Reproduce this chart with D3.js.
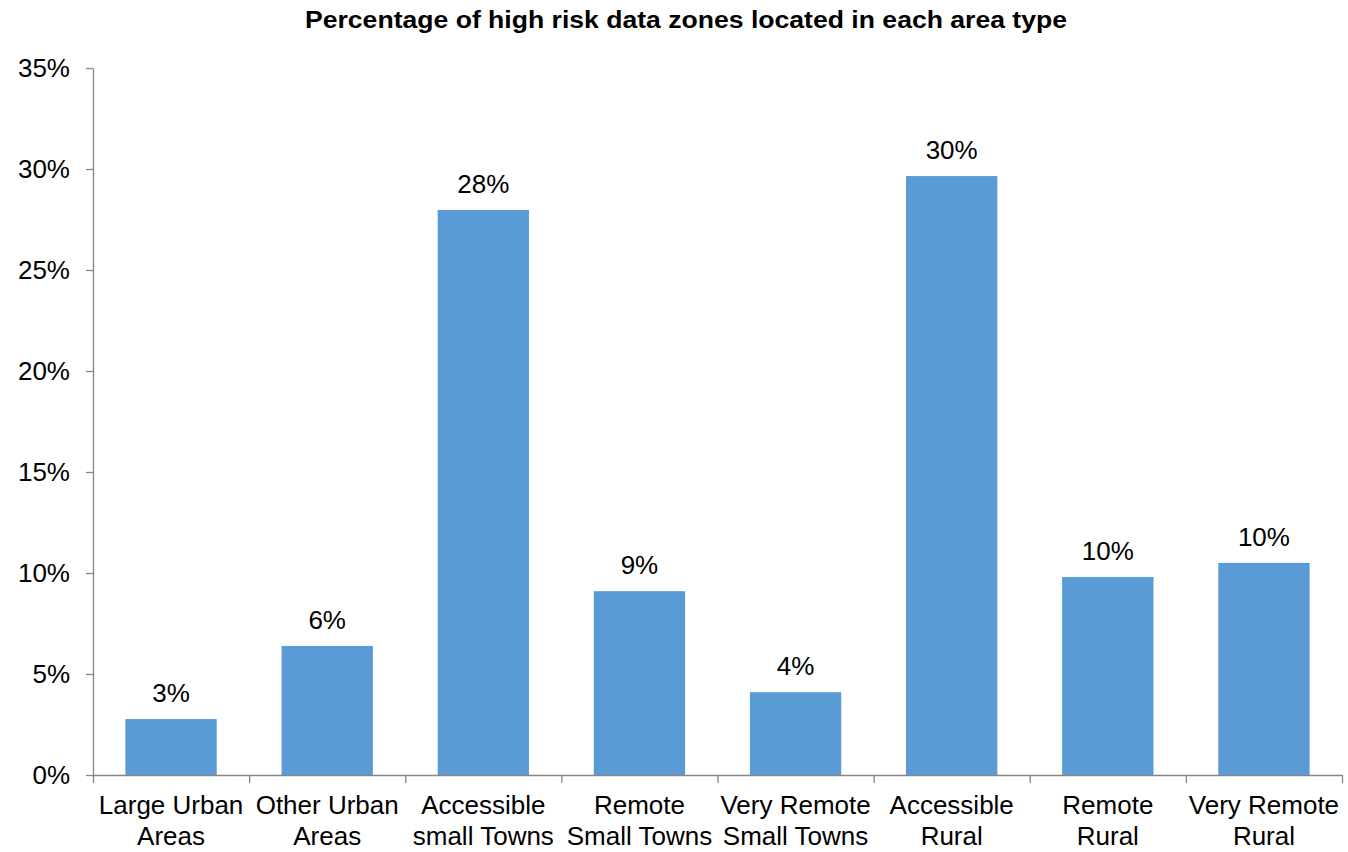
<!DOCTYPE html>
<html>
<head>
<meta charset="utf-8">
<script src="https://cdn.jsdelivr.net/npm/d3@7"></script>
<style>
  body { margin: 0; background: #fff; }
  svg text { font-family: "Liberation Sans", Arial, sans-serif; fill: #000; }
</style>
</head>
<body>
<div id="main"></div>
<script>
// data
const categories = [
  ["Large Urban", "Areas"],
  ["Other Urban", "Areas"],
  ["Accessible", "small Towns"],
  ["Remote", "Small Towns"],
  ["Very Remote", "Small Towns"],
  ["Accessible", "Rural"],
  ["Remote", "Rural"],
  ["Very Remote", "Rural"]
];
const values = [0.0277, 0.0639, 0.2797, 0.091, 0.041, 0.2965, 0.098, 0.105];
const labels = ["3%", "6%", "28%", "9%", "4%", "30%", "10%", "10%"];
const yTicks = [0, 0.05, 0.10, 0.15, 0.20, 0.25, 0.30, 0.35];

const width = 1348, height = 852;
const margin = { top: 68, right: 6, bottom: 77, left: 93 };
const innerWidth = width - margin.left - margin.right;
const innerHeight = height - margin.top - margin.bottom;
const fontSize = "26px";

const svg = d3.select("#main").append("svg")
  .attr("width", width)
  .attr("height", height);

svg.append("text")
  .attr("x", 686)
  .attr("y", 28)
  .attr("text-anchor", "middle")
  .attr("textLength", 762)
  .attr("lengthAdjust", "spacingAndGlyphs")
  .style("font-size", "23px")
  .style("font-weight", "bold")
  .text("Percentage of high risk data zones located in each area type");

const g = svg.append("g")
  .attr("transform", `translate(${margin.left}, ${margin.top})`);

const idx = d3.range(categories.length);
const xScale = d3.scaleBand()
  .domain(idx)
  .range([0, innerWidth])
  .paddingInner(0.415)
  .paddingOuter(0.2075);

const yScale = d3.scaleLinear()
  .domain([0, 0.35])
  .range([innerHeight, 0]);

// bars
g.selectAll("rect.bar")
  .data(values)
  .enter()
  .append("rect")
  .attr("class", "bar")
  .attr("x", (d, i) => xScale(i))
  .attr("y", d => yScale(d))
  .attr("width", xScale.bandwidth())
  .attr("height", d => yScale(0) - yScale(d))
  .attr("fill", "#5b9bd5");

// value labels
g.selectAll("text.val")
  .data(values)
  .enter()
  .append("text")
  .attr("class", "val")
  .attr("x", (d, i) => xScale(i) + xScale.bandwidth() / 2)
  .attr("y", d => yScale(d) - 17)
  .attr("text-anchor", "middle")
  .style("font-size", fontSize)
  .text((d, i) => labels[i]);

// y axis
const yAxis = d3.axisLeft(yScale)
  .tickValues(yTicks)
  .tickFormat(d3.format(".0%"))
  .tickSize(7)
  .tickPadding(16)
  .tickSizeOuter(0);

g.append("g")
  .attr("id", "y-axis")
  .call(yAxis)
  .call(a => a.selectAll("line, path").attr("stroke", "#868686").attr("stroke-width", 1.3))
  .call(a => a.selectAll(".tick text").style("font-size", fontSize).attr("fill", "#000"));

// x axis (ticks at category boundaries)
const xLine = d3.scaleLinear().domain([0, categories.length]).range([0, innerWidth]);
const xAxis = d3.axisBottom(xLine)
  .tickValues(d3.range(categories.length + 1))
  .tickSize(8)
  .tickFormat("")
  .tickSizeOuter(0);

g.append("g")
  .attr("id", "x-axis")
  .attr("transform", `translate(0, ${innerHeight})`)
  .call(xAxis)
  .call(a => a.selectAll("line, path").attr("stroke", "#868686").attr("stroke-width", 1.3));

// category labels
const catText = g.selectAll("text.cat")
  .data(categories)
  .enter()
  .append("text")
  .attr("class", "cat")
  .attr("text-anchor", "middle")
  .attr("transform", (d, i) => `translate(${xScale(i) + xScale.bandwidth() / 2}, ${innerHeight + 39})`)
  .style("font-size", fontSize);

catText.selectAll("tspan")
  .data(d => d)
  .enter()
  .append("tspan")
  .attr("x", 0)
  .attr("dy", (d, j) => j === 0 ? 0 : 31)
  .text(d => d);
</script>
</body>
</html>
